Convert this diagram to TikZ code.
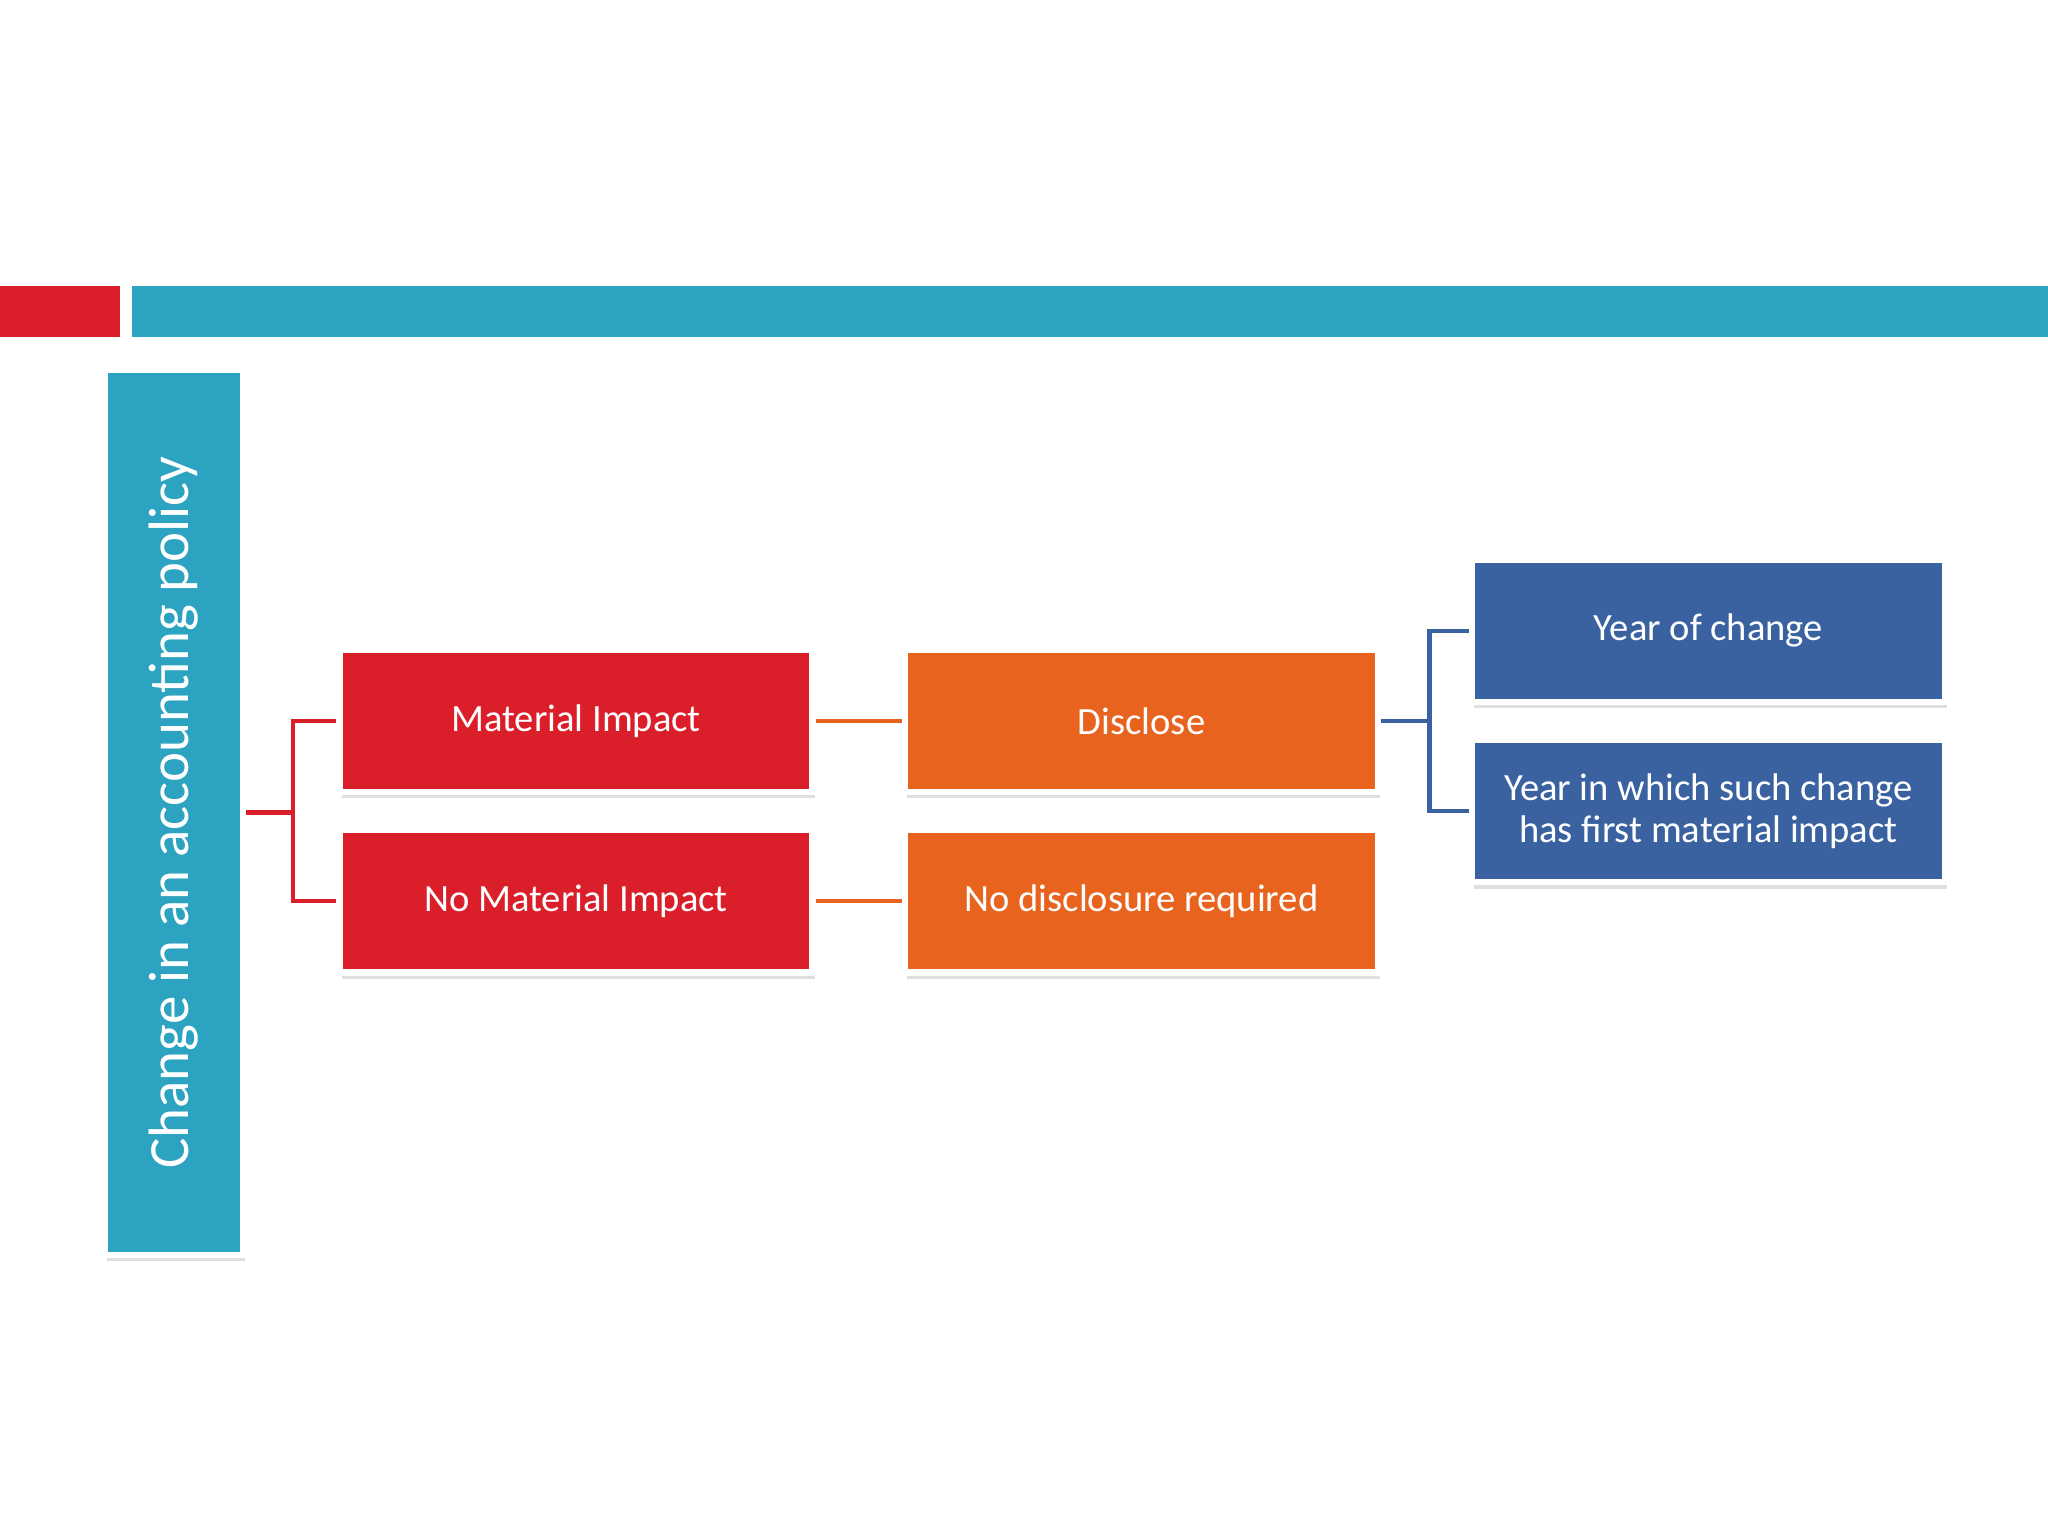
\documentclass[tikz,border=0pt]{standalone}
\usepackage{fontspec}
\setmainfont{Carlito}
\usetikzlibrary{shadows}
\definecolor{cteal}{HTML}{2CA3C0}
\definecolor{cred}{HTML}{DA1F2B}
\definecolor{corange}{HTML}{E8641E}
\definecolor{cblue}{HTML}{3A62A0}
\tikzset{
 bx/.style={rectangle,fill=#1,draw=white,line width=1.2mm,minimum width=90.5mm,minimum height=27.25mm,
   text=white,font=\fontsize{21}{24}\selectfont,align=center,
   double copy shadow={shadow xshift=0mm,shadow yshift=0mm,fill=#1,draw=#1,line width=0.3mm,opacity=1},
   drop shadow={shadow xshift=0.4mm,shadow yshift=-1.2mm,opacity=0.25}},
 ln/.style={draw=#1,line width=0.8mm}
}
\begin{document}
\begin{tikzpicture}[x=0.25mm,y=-0.25mm]
\useasboundingbox (0,0) rectangle (1568,1176);
\fill[cred] (0,219) rectangle (92,258);
\fill[cteal] (101,219) rectangle (1568,258);
\node[bx=cteal,minimum width=169.5mm,minimum height=26.5mm,rotate=90,font=\fontsize{31}{36}\selectfont] (v) at (133,622) {Change in an accounting policy};
\node[bx=cred] (m) at (441,552) {Material Impact};
\node[bx=cred] (n) at (441,690) {No Material Impact};
\node[bx=corange] (d) at (874,552) {Disclose};
\node[bx=corange] (nd) at (874,690) {No disclosure required};
\node[bx=cblue] (y) at (1308,483) {Year of change};
\node[bx=cblue,font=\fontsize{21}{23}\selectfont] (w) at (1308,621) {Year in which such change\\has first material impact};
\draw[ln=cred] (v.south) -- ++(36,0) coordinate (j1);
\draw[ln=cred] (m.west) -| (j1) |- (n.west);
\draw[ln=corange] (m) -- (d);
\draw[ln=corange] (n) -- (nd);
\draw[ln=cblue] (d.east) -- ++(37,0) coordinate (j2);
\draw[ln=cblue] (y.west) -| (j2) |- (w.west);
\end{tikzpicture}
\end{document}
